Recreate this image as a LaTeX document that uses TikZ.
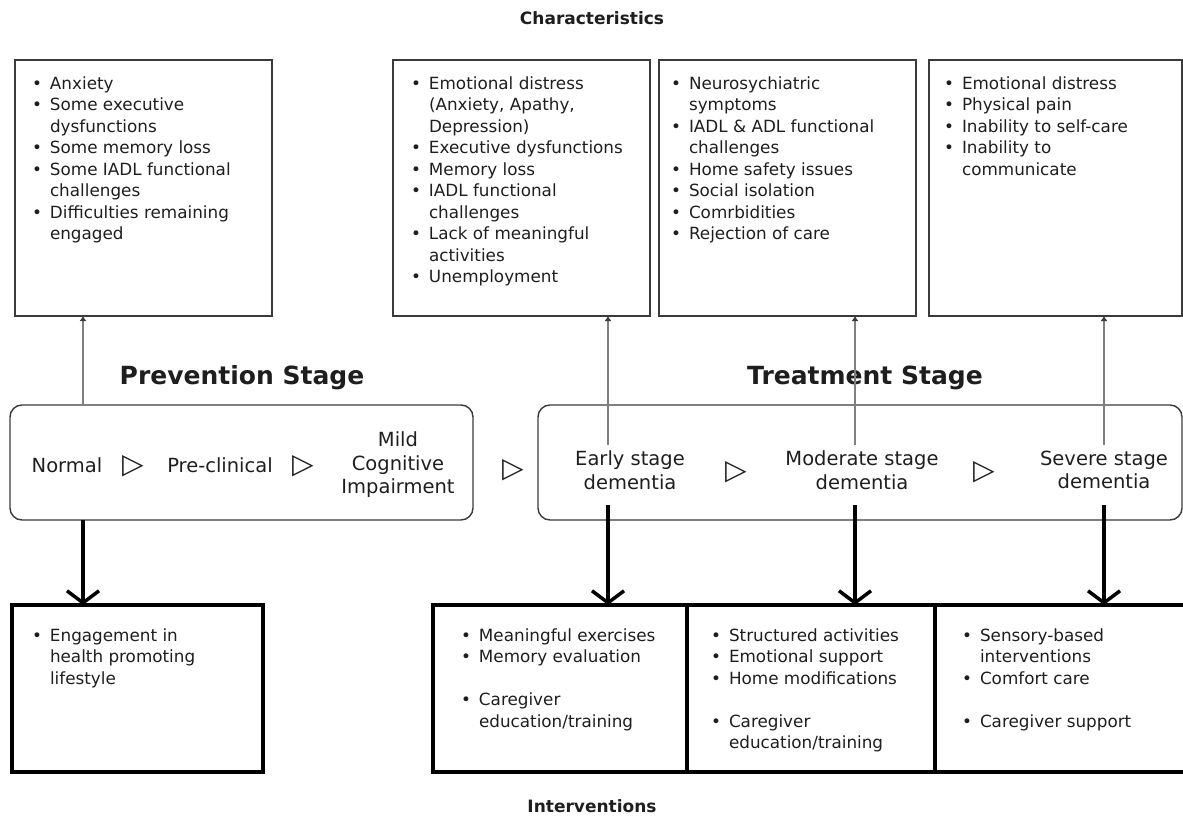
\documentclass[tikz,border=0pt]{standalone}
\usepackage{fontspec}
\setmainfont{DejaVu Sans}
\usetikzlibrary{arrows.meta}
\definecolor{ink}{HTML}{1E1E1E}
\definecolor{rim}{HTML}{3A3A3A}
\definecolor{link}{HTML}{808080}
\newcommand\listfont{\fontsize{16.8pt}{21.5pt}\selectfont}
\newcommand\stagefont{\fontsize{19.5pt}{23.5pt}\selectfont}
\newcommand\headfont{\fontsize{25pt}{29pt}\selectfont\bfseries}
\newcommand\capfont{\fontsize{17pt}{21pt}\selectfont\bfseries}
\newcommand\bl{\makebox[18pt][l]{•}}
\newcommand\tri{{\fontsize{28pt}{30pt}\selectfont ▷}}
\begin{document}
\begin{tikzpicture}[x=1pt,y=-1pt,
  every node/.style={inner sep=0pt, outer sep=0pt, text=ink},
  charbox/.style={draw=rim, line width=1.4pt, anchor=north west,
    minimum height=256pt},
  intbox/.style={draw=black, line width=4.5pt, anchor=north west,
    minimum height=167pt},
  stagebox/.style={draw=rim, line width=1.4pt, rounded corners=12pt,
    anchor=north west, minimum height=115pt},
  itemlist/.style={anchor=north west, font=\listfont, align=left},
  stagelabel/.style={font=\stagefont, align=center},
  arrowsign/.style={font=\stagefont},
  uplink/.style={draw=link, line width=1.8pt,
    -{Latex[length=5pt,width=7pt,color=rim]}},
  downlink/.style={draw=black, line width=3.5pt,
    -{Straight Barb[length=12pt,width=32pt]}},
]
\useasboundingbox (0,0) rectangle (1183,826);

% headings
\node[font=\capfont] (hchar) at (592,18) {Characteristics};
\node[font=\capfont] (hint) at (592,806) {Interventions};
\node[font=\headfont] (hprev) at (242,378) {Prevention Stage};
\node[font=\headfont] (htreat) at (865,378) {Treatment Stage};

% characteristics boxes
\node[charbox, minimum width=257pt] (c1) at (15,60) {};
\node[charbox, minimum width=257pt] (c2) at (393,60) {};
\node[charbox, minimum width=257pt] (c3) at (659,60) {};
\node[charbox, minimum width=253pt] (c4) at (929,60) {};

\node[itemlist] (t1) at (32,74) {\begin{tabular}{@{}l@{}l@{}}
\bl & Anxiety\\
\bl & Some executive\\
    & dysfunctions\\
\bl & Some memory loss\\
\bl & Some IADL functional\\
    & challenges\\
\bl & Difficulties remaining\\
    & engaged
\end{tabular}};
\node[itemlist] (t2) at (411,74) {\begin{tabular}{@{}l@{}l@{}}
\bl & Emotional distress\\
    & (Anxiety, Apathy,\\
    & Depression)\\
\bl & Executive dysfunctions\\
\bl & Memory loss\\
\bl & IADL functional\\
    & challenges\\
\bl & Lack of meaningful\\
    & activities\\
\bl & Unemployment
\end{tabular}};
\node[itemlist] (t3) at (671,74) {\begin{tabular}{@{}l@{}l@{}}
\bl & Neurosychiatric\\
    & symptoms\\
\bl & IADL \& ADL functional\\
    & challenges\\
\bl & Home safety issues\\
\bl & Social isolation\\
\bl & Comrbidities\\
\bl & Rejection of care
\end{tabular}};
\node[itemlist] (t4) at (944,74) {\begin{tabular}{@{}l@{}l@{}}
\bl & Emotional distress\\
\bl & Physical pain\\
\bl & Inability to self-care\\
\bl & Inability to\\
    & communicate
\end{tabular}};

% stage boxes
\node[stagebox, minimum width=463pt] (pv) at (10,405) {};
\node[stagebox, minimum width=644pt] (tr) at (538,405) {};

\node[stagelabel] (normal) at (67,465) {Normal};
\node[arrowsign] (s1) at (133,466) {\tri};
\node[stagelabel] (precl) at (220,465) {Pre-clinical};
\node[arrowsign] (s2) at (303,466) {\tri};
\node[stagelabel] (mci) at (398,465) {Mild\\Cognitive\\Impairment};
\node[arrowsign] (s3) at (513,470) {\tri};
\node[stagelabel] (early) at (630,470) {Early stage\\dementia};
\node[arrowsign] (s4) at (736,472) {\tri};
\node[stagelabel] (moder) at (862,470) {Moderate stage\\dementia};
\node[arrowsign] (s5) at (984,472) {\tri};
\node[stagelabel] (sever) at (1104,470) {Severe stage\\dementia};

% intervention boxes
\node[intbox, minimum width=251pt] (i1) at (12,605) {};
\node[intbox, minimum width=254pt] (i2) at (433,605) {};
\node[intbox, minimum width=248pt] (i3) at (687,605) {};
\node[intbox, minimum width=252pt] (i4) at (935,605) {};

\node[itemlist] (u1) at (32,626) {\begin{tabular}{@{}l@{}l@{}}
\bl & Engagement in\\
    & health promoting\\
    & lifestyle
\end{tabular}};
\node[itemlist] (u2) at (461,626) {\begin{tabular}{@{}l@{}l@{}}
\bl & Meaningful exercises\\
\bl & Memory evaluation\\
    & \\
\bl & Caregiver\\
    & education/training
\end{tabular}};
\node[itemlist] (u3) at (711,626) {\begin{tabular}{@{}l@{}l@{}}
\bl & Structured activities\\
\bl & Emotional support\\
\bl & Home modifications\\
    & \\
\bl & Caregiver\\
    & education/training
\end{tabular}};
\node[itemlist] (u4) at (962,626) {\begin{tabular}{@{}l@{}l@{}}
\bl & Sensory-based\\
    & interventions\\
\bl & Comfort care\\
    & \\
\bl & Caregiver support
\end{tabular}};

% connector anchors
\coordinate (x1) at (83,0);
\coordinate (x2) at (608,445);
\coordinate (x3) at (855,445);
\coordinate (x4) at (1104,445);
\coordinate (y2) at (608,505);
\coordinate (y3) at (855,505);
\coordinate (y4) at (1104,505);

% characteristics links
\draw[uplink] (x1 |- pv.north) -- (x1 |- c1.south);
\draw[uplink] (x2) -- (x2 |- c2.south);
\draw[uplink] (x3) -- (x3 |- c3.south);
\draw[uplink] (x4) -- (x4 |- c4.south);

% intervention links
\draw[downlink] (x1 |- pv.south) -- (x1 |- i1.north);
\draw[downlink] (y2) -- (y2 |- i2.north);
\draw[downlink] (y3) -- (y3 |- i3.north);
\draw[downlink] (y4) -- (y4 |- i4.north);
\end{tikzpicture}
\end{document}
